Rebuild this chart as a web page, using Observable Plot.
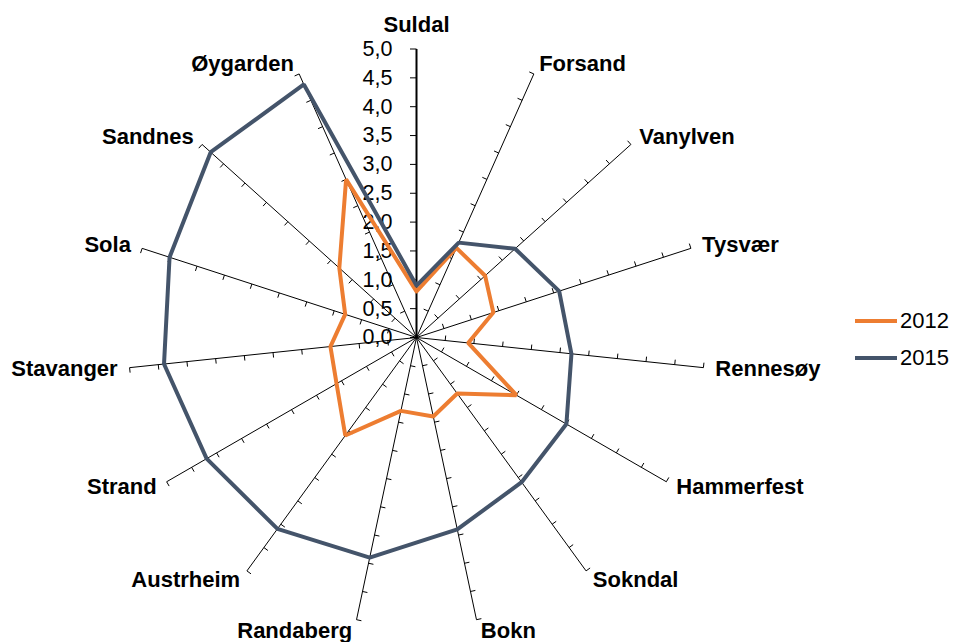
<!DOCTYPE html>
<html>
<head>
<meta charset="utf-8">
<script src="https://cdn.jsdelivr.net/npm/d3@7"></script>
<script src="https://cdn.jsdelivr.net/npm/@observablehq/plot@0.6"></script>
<style>
  body { margin: 0; background: #fff; font-family: "Liberation Sans", Arial, sans-serif; }
  #wrap { position: relative; width: 953px; height: 642px; }
  #legend { position: absolute; left: 855px; top: 302px; font-size: 22px; color: #000; }
  .item { display: flex; align-items: center; height: 37.5px; }
  .sw { width: 42px; height: 4px; margin-right: 3px; }
</style>
</head>
<body>
<div id="wrap"></div>
<script>
const categories = ["Suldal","Forsand","Vanylven","Tysvær","Rennesøy","Hammerfest","Sokndal","Bokn","Randaberg","Austrheim","Strand","Stavanger","Sola","Sandnes","Øygarden"];
const values2012 = [0.8, 1.7, 1.6, 1.4, 0.9, 2.0, 1.2, 1.4, 1.3, 2.1, 1.6, 1.5, 1.3, 1.8, 3.0];
const values2015 = [0.9, 1.8, 2.3, 2.6, 2.7, 3.0, 3.1, 3.4, 3.9, 4.1, 4.2, 4.4, 4.5, 4.8, 4.8];
const tickValues = [0, 0.5, 1, 1.5, 2, 2.5, 3, 3.5, 4, 4.5, 5];
const tickLabels = ["0,0","0,5","1,0","1,5","2,0","2,5","3,0","3,5","4,0","4,5","5,0"];
const seriesNames = ["2012", "2015"];
const seriesColors = ["#ED7D31", "#44546A"];

const W = 953, H = 642, CX = 416, CY = 337, U = 57.7, RMAX = 5;
const N = categories.length;
const ang = i => 2 * Math.PI * i / N;
const S = i => Math.sin(ang(i)), C = i => Math.cos(ang(i));

const spokes = categories.map((c, i) => ({i, x1: 0, y1: 0, x2: RMAX * S(i), y2: RMAX * C(i)}));

const ticks = [];
categories.forEach((c, i) => {
  tickValues.forEach(v => {
    if (i !== 0 && v === 0) return;
    const len = (i === 0 ? 6.5 : 5) / U;
    const px = v * S(i), py = v * C(i);
    ticks.push({x1: px, y1: py, x2: px - C(i) * len, y2: py + S(i) * len});
  });
});

function poly(vals) {
  const pts = vals.map((v, i) => ({x: v * S(i), y: v * C(i)}));
  pts.push(pts[0]);
  return pts;
}

const labels = categories.map((c, i) => {
  const s = S(i), co = C(i);
  const gap = (4 + 8 * s * s) / U;
  let anchor = Math.abs(s) < 0.1 ? "middle" : (s > 0 ? "start" : "end");
  let x = RMAX * s + (anchor === "middle" ? 0 : Math.sign(s) * gap);
  let y = RMAX * co + (co * 11 + (anchor === "middle" && co > 0 ? 13 : 0)) / U;
  return {name: c, x, y, anchor};
});

const textOpts = {fontWeight: "bold", fontSize: 22, fill: "#000"};

const chart = Plot.plot({
  width: W, height: H, margin: 0,
  style: {fontFamily: "'Liberation Sans', Arial, sans-serif", background: "#fff"},
  x: {domain: [-CX / U, (W - CX) / U], axis: null},
  y: {domain: [-(H - CY) / U, CY / U], axis: null},
  marks: [
    Plot.link(spokes, {x1: "x1", y1: "y1", x2: "x2", y2: "y2", stroke: "#000", strokeWidth: d => d.i === 0 ? 2 : 1}),
    Plot.link(ticks, {x1: "x1", y1: "y1", x2: "x2", y2: "y2", stroke: "#000", strokeWidth: 1}),
    Plot.text(tickValues, {x: () => -24 / U, y: d => d, text: (d, k) => tickLabels[k], textAnchor: "end", fontSize: 21.5, fill: "#000"}),
    Plot.line(poly(values2012), {x: "x", y: "y", stroke: seriesColors[0], strokeWidth: 4, strokeLinejoin: "miter", curve: "linear"}),
    Plot.line(poly(values2015), {x: "x", y: "y", stroke: seriesColors[1], strokeWidth: 4, strokeLinejoin: "miter", curve: "linear"}),
    Plot.text(labels.filter(d => d.anchor === "start"), {x: "x", y: "y", text: "name", textAnchor: "start", ...textOpts}),
    Plot.text(labels.filter(d => d.anchor === "end"), {x: "x", y: "y", text: "name", textAnchor: "end", ...textOpts}),
    Plot.text(labels.filter(d => d.anchor === "middle"), {x: "x", y: "y", text: "name", textAnchor: "middle", ...textOpts})
  ]
});

const wrap = document.getElementById("wrap");
wrap.appendChild(chart);
const legend = document.createElement("div");
legend.id = "legend";
seriesNames.forEach((n, k) => {
  const it = document.createElement("div");
  it.className = "item";
  const sw = document.createElement("div");
  sw.className = "sw";
  sw.style.background = seriesColors[k];
  const t = document.createElement("span");
  t.textContent = n;
  it.appendChild(sw); it.appendChild(t);
  legend.appendChild(it);
});
wrap.appendChild(legend);
</script>
</body>
</html>
